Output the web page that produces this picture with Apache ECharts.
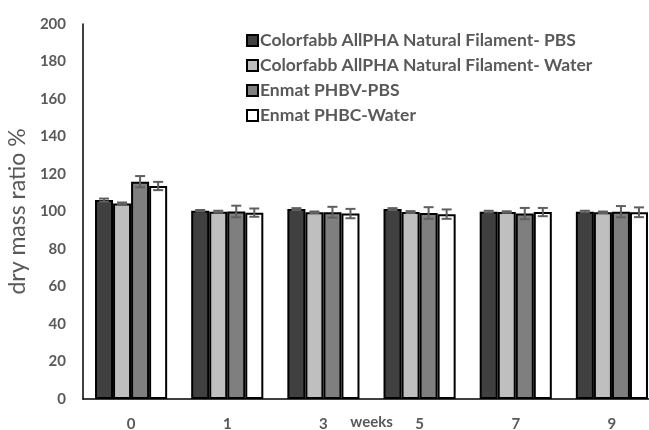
<!DOCTYPE html>
<html>
<head>
<meta charset="utf-8">
<script src="https://cdn.jsdelivr.net/npm/echarts@6/dist/echarts.min.js"></script>
<style>
  html, body { margin: 0; padding: 0; background: #fff; }
  #chart { width: 649px; height: 430px; }
</style>
</head>
<body>
<div id="chart"></div>
<script>
// Sampling times (weeks)
const weeks = ['0', '1', '3', '5', '7', '9'];

// Series names
const seriesNames = [
  'Colorfabb AllPHA Natural Filament- PBS',
  'Colorfabb AllPHA Natural Filament- Water',
  'Enmat PHBV-PBS',
  'Enmat PHBC-Water'
];

// Mean dry mass ratio (%)
const colorfabbPBS   = [106.1, 100.4, 101.3, 101.3, 99.9, 99.9];
const colorfabbWater = [104.3, 99.9, 99.6, 99.7, 99.7, 99.6];
const enmatPBS       = [115.9, 100.0, 99.6, 99.2, 98.9, 99.9];
const enmatWater     = [113.6, 99.4, 98.9, 98.6, 99.7, 99.6];

// Standard deviations
const colorfabbPBSErr   = [0.8, 0.4, 0.5, 0.5, 0.5, 0.5];
const colorfabbWaterErr = [0.5, 0.5, 0.4, 0.5, 0.4, 0.4];
const enmatPBSErr       = [3.0, 3.1, 2.9, 3.1, 3.0, 3.0];
const enmatWaterErr     = [2.2, 2.2, 2.5, 2.5, 2.2, 2.6];

// Y axis ticks
const yMin = 0, yMax = 200, yStep = 20;

const means = [colorfabbPBS, colorfabbWater, enmatPBS, enmatWater];
const errs = [colorfabbPBSErr, colorfabbWaterErr, enmatPBSErr, enmatWaterErr];
const fills = ['#404040', '#bfbfbf', '#7f7f7f', '#ffffff'];
const textColor = '#595959';
const font = 'Lato';
const categoryGap = 0.25;

const barSeries = means.map((vals, i) => ({
  name: seriesNames[i],
  type: 'bar',
  data: vals,
  barGap: '0%',
  barCategoryGap: (categoryGap * 100) + '%',
  itemStyle: { color: fills[i], borderColor: '#000', borderWidth: 2 },
  z: 2
}));

// Error bars drawn on top of each bar
const errData = [];
means.forEach((vals, s) => {
  vals.forEach((v, c) => errData.push([c, v, errs[s][c], s]));
});

const errorSeries = {
  type: 'custom',
  name: 'err',
  z: 5,
  data: errData,
  renderItem: function (params, api) {
    const c = api.value(0), v = api.value(1), e = api.value(2), s = api.value(3);
    const band = api.size([1, 0])[0];
    const bw = band * (1 - categoryGap) / 4;
    const base = api.coord([c, v]);
    const x = base[0] + (s - 1.5) * bw;
    const hi = api.coord([c, v + e])[1];
    const lo = api.coord([c, v - e])[1];
    const cap = 5;
    const style = { stroke: '#5f5f5f', lineWidth: 2, fill: null };
    return {
      type: 'group',
      children: [
        { type: 'line', shape: { x1: x, y1: hi, x2: x, y2: lo }, style: style },
        { type: 'line', shape: { x1: x - cap, y1: hi, x2: x + cap, y2: hi }, style: style },
        { type: 'line', shape: { x1: x - cap, y1: lo, x2: x + cap, y2: lo }, style: style }
      ]
    };
  }
};

const chart = echarts.init(document.getElementById('chart'), null, { renderer: 'canvas' });
chart.setOption({
  animation: false,
  backgroundColor: '#fff',
  grid: { left: 83, top: 24, height: 375, width: 577, containLabel: false, outerBoundsMode: 'none' },
  legend: {
    data: seriesNames,
    orient: 'vertical',
    left: 241,
    top: 25.5,
    itemWidth: 11,
    itemHeight: 11,
    itemGap: 5,
    icon: 'rect',
    textStyle: { color: textColor, fontFamily: font, fontWeight: 'bold', fontSize: 17.5, lineHeight: 20, padding: [0, 0, 0, -3] }
  },
  xAxis: {
    type: 'category',
    data: weeks,
    axisLine: { lineStyle: { color: '#000', width: 1.5 } },
    axisTick: { show: false },
    axisLabel: { color: textColor, fontFamily: font, fontWeight: 'bold', fontSize: 15, margin: 18 },
    name: 'weeks',
    nameLocation: 'middle',
    nameGap: 16,
    nameMoveOverlap: false,
    nameTextStyle: { color: textColor, fontFamily: font, fontWeight: 'bold', fontSize: 15 }
  },
  yAxis: {
    type: 'value',
    min: yMin,
    max: yMax,
    interval: yStep,
    axisLine: { show: true, lineStyle: { color: '#000', width: 1.5 } },
    axisTick: { show: false },
    splitLine: { show: false },
    axisLabel: { color: textColor, fontFamily: font, fontWeight: 'bold', fontSize: 15, margin: 17 },
    name: 'dry mass ratio %',
    nameLocation: 'middle',
    nameGap: 45,
    nameRotate: 90,
    nameTextStyle: { color: textColor, fontFamily: font, fontSize: 23 }
  },
  series: barSeries.concat([errorSeries])
});
</script>
</body>
</html>
